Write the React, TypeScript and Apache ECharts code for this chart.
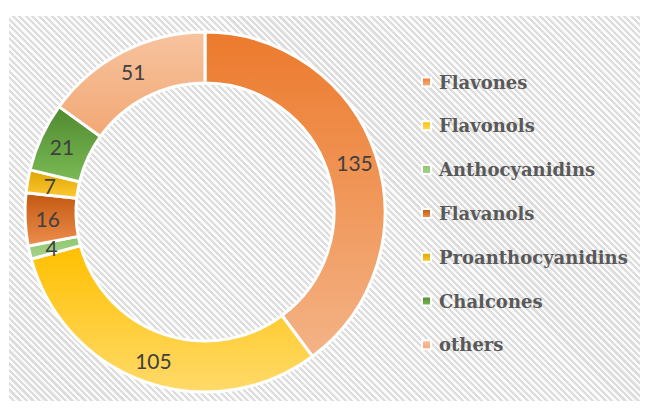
import React, { useEffect, useRef } from "react";
import * as echarts from "echarts";

const categories = ["Flavones", "Flavonols", "Anthocyanidins", "Flavanols", "Proanthocyanidins", "Chalcones", "others"];
const values = [135, 105, 4, 16, 7, 21, 51];
const topColors = ["#EC7A2C", "#FFC000", "#8CC76C", "#C25810", "#DCA500", "#4F8A2F", "#F7C39F"];
const bottomColors = ["#F4B386", "#FFDA6A", "#A9D18E", "#EE8E4E", "#FFC934", "#7BBA56", "#F2A874"];

export default function App() {
  const ref = useRef<HTMLDivElement>(null);
  useEffect(() => {
    if (!ref.current) return;
    const chart = echarts.init(ref.current, null, { renderer: "svg" });
    const data = categories.map((name, i) => ({
      name,
      value: values[i],
      itemStyle: {
        color: new echarts.graphic.LinearGradient(0, 0, 0, 1, [
          { offset: 0, color: topColors[i] },
          { offset: 1, color: bottomColors[i] },
        ]),
      },
    }));
    chart.setOption({
      animation: false,
      backgroundColor: "transparent",
      legend: {
        orient: "vertical",
        left: 421,
        top: 72,
        padding: 0,
        icon: "rect",
        itemWidth: 9,
        itemHeight: 9,
        itemGap: 23.8,
        selectedMode: false,
        textStyle: {
          fontFamily: "DejaVu Serif",
          fontWeight: "bold",
          fontSize: 18,
          lineHeight: 20,
          color: "#595959",
          padding: [0, 0, 0, 3],
        },
        data: categories,
      },
      series: [
        {
          type: "pie",
          center: [205, 212],
          radius: [129, 180],
          startAngle: 90,
          clockwise: true,
          avoidLabelOverlap: false,
          itemStyle: { borderColor: "#ffffff", borderWidth: 3 },
          label: {
            show: true,
            position: "inside",
            formatter: "{c}",
            fontFamily: "Lato",
            fontSize: 21,
            color: "#404040",
          },
          labelLine: { show: false },
          emphasis: { disabled: true },
          data,
        },
      ],
    });
    return () => chart.dispose();
  }, []);
  return (
    <div style={{ position: "fixed", left: 0, top: 0, width: 649, height: 413, background: "#ffffff" }}>
      <div
        style={{
          position: "absolute",
          left: 9,
          top: 16,
          width: 631,
          height: 385,
          background:
            "repeating-linear-gradient(45deg, #fbfbfb 0px, #fbfbfb 2.4px, #dddddd 2.4px, #dddddd 4.6px)",
        }}
      />
      <div ref={ref} style={{ position: "absolute", left: 0, top: 0, width: 649, height: 413 }} />
    </div>
  );
}
